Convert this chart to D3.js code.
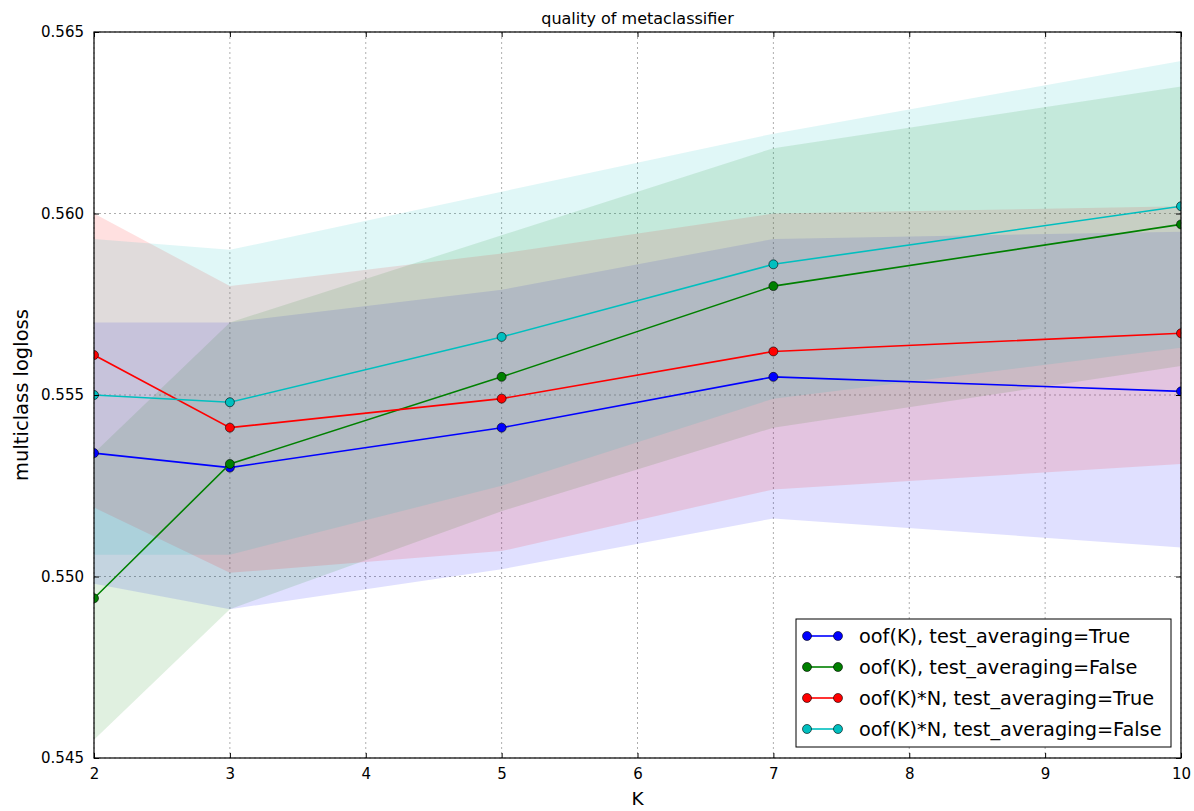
<!DOCTYPE html>
<html>
<head>
<meta charset="utf-8">
<script src="https://cdn.jsdelivr.net/npm/d3@7"></script>
<style>
  body { margin: 0; background: #fff; }
  text { font-family: "DejaVu Sans", sans-serif; fill: #000; }
</style>
</head>
<body>
<svg id="chart" width="1194" height="811"></svg>
<script>
// values
const ks = [2, 3, 5, 7, 10];
const seriesNames = [
  "oof(K), test_averaging=True",
  "oof(K), test_averaging=False",
  "oof(K)*N, test_averaging=True",
  "oof(K)*N, test_averaging=False"
];
const seriesColors = ["#0000ff", "#008000", "#ff0000", "#00bfbf"];

const meanTrue = [0.5534, 0.5530, 0.5541, 0.5555, 0.5551];
const meanFalse = [0.5494, 0.5531, 0.5555, 0.5580, 0.5597];
const meanNTrue = [0.5561, 0.5541, 0.5549, 0.5562, 0.5567];
const meanNFalse = [0.5550, 0.5548, 0.5566, 0.5586, 0.5602];

const upperTrue = [0.5570, 0.5570, 0.5579, 0.5593, 0.5595];
const lowerTrue = [0.5498, 0.5491, 0.5502, 0.5516, 0.5508];
const upperFalse = [0.5534, 0.5570, 0.5594, 0.5618, 0.5635];
const lowerFalse = [0.5455, 0.5491, 0.5518, 0.5541, 0.5558];
const upperNTrue = [0.5600, 0.5580, 0.5589, 0.5600, 0.5602];
const lowerNTrue = [0.5519, 0.5501, 0.5507, 0.5524, 0.5531];
const upperNFalse = [0.5593, 0.5590, 0.5606, 0.5622, 0.5642];
const lowerNFalse = [0.5506, 0.5506, 0.5525, 0.5549, 0.5563];

const xTicks = [2, 3, 4, 5, 6, 7, 8, 9, 10];
const yTicks = [0.545, 0.550, 0.555, 0.560, 0.565];

const series = [
  {mean: meanTrue, lo: lowerTrue, hi: upperTrue},
  {mean: meanFalse, lo: lowerFalse, hi: upperFalse},
  {mean: meanNTrue, lo: lowerNTrue, hi: upperNTrue},
  {mean: meanNFalse, lo: lowerNFalse, hi: upperNFalse}
].map((s, i) => ({...s, name: seriesNames[i], color: seriesColors[i]}));

const m = {left: 94, right: 1181, top: 32, bottom: 758};

const x = d3.scaleLinear().domain([2, 10]).range([m.left, m.right]);
const y = d3.scaleLinear().domain([0.545, 0.565]).range([m.bottom, m.top]);

const svg = d3.select("#chart");

svg.append("defs").append("clipPath")
    .attr("id", "plot-clip")
  .append("rect")
    .attr("x", m.left)
    .attr("y", m.top)
    .attr("width", m.right - m.left)
    .attr("height", m.bottom - m.top);

// grid
const grid = svg.append("g")
    .attr("stroke", "#000")
    .attr("stroke-opacity", 0.4)
    .attr("stroke-width", 0.8)
    .attr("stroke-dasharray", "2,3");

grid.selectAll("line.vx")
  .data(xTicks)
  .join("line")
    .attr("class", "vx")
    .attr("x1", d => x(d)).attr("x2", d => x(d))
    .attr("y1", m.top).attr("y2", m.bottom);

grid.selectAll("line.hy")
  .data(yTicks)
  .join("line")
    .attr("class", "hy")
    .attr("x1", m.left).attr("x2", m.right)
    .attr("y1", d => y(d)).attr("y2", d => y(d));

const plot = svg.append("g").attr("clip-path", "url(#plot-clip)");

// bands
const area = d3.area()
    .x((d, i) => x(ks[i]))
    .y0(d => y(d[0]))
    .y1(d => y(d[1]));

series.forEach(s => {
  plot.append("path")
      .datum(s.lo.map((v, i) => [v, s.hi[i]]))
      .attr("fill", s.color)
      .attr("fill-opacity", 0.12)
      .attr("d", area);
});

// lines and markers
const line = d3.line()
    .x((d, i) => x(ks[i]))
    .y(d => y(d));

series.forEach(s => {
  plot.append("path")
      .datum(s.mean)
      .attr("fill", "none")
      .attr("stroke", s.color)
      .attr("stroke-width", 1.6)
      .attr("d", line);

  plot.selectAll(null)
    .data(s.mean)
    .join("circle")
      .attr("cx", (d, i) => x(ks[i]))
      .attr("cy", d => y(d))
      .attr("r", 4.5)
      .attr("fill", s.color)
      .attr("stroke", "#000")
      .attr("stroke-width", 0.6);
});

// axes (ticks inside, on all four sides)
const fmt = d3.format(".3f");

svg.append("g")
    .attr("transform", `translate(0,${m.bottom})`)
    .call(d3.axisBottom(x).tickValues(xTicks).tickSizeInner(-5).tickSizeOuter(0).tickPadding(10))
    .call(g => g.select(".domain").remove())
    .call(g => g.selectAll("text").attr("font-size", 15).attr("font-family", "DejaVu Sans"));

svg.append("g")
    .attr("transform", `translate(0,${m.top})`)
    .call(d3.axisTop(x).tickValues(xTicks).tickSizeInner(-5).tickSizeOuter(0).tickFormat(""))
    .call(g => g.select(".domain").remove());

svg.append("g")
    .attr("transform", `translate(${m.left},0)`)
    .call(d3.axisLeft(y).tickValues(yTicks).tickFormat(fmt).tickSizeInner(-5).tickSizeOuter(0).tickPadding(10))
    .call(g => g.select(".domain").remove())
    .call(g => g.selectAll("text").attr("font-size", 15).attr("font-family", "DejaVu Sans"));

svg.append("g")
    .attr("transform", `translate(${m.right},0)`)
    .call(d3.axisRight(y).tickValues(yTicks).tickSizeInner(-5).tickSizeOuter(0).tickFormat(""))
    .call(g => g.select(".domain").remove());

svg.append("rect")
    .attr("x", m.left).attr("y", m.top)
    .attr("width", m.right - m.left).attr("height", m.bottom - m.top)
    .attr("fill", "none")
    .attr("stroke", "#000")
    .attr("stroke-width", 1.2);

// titles
svg.append("text")
    .attr("x", (m.left + m.right) / 2).attr("y", 24)
    .attr("text-anchor", "middle")
    .attr("font-size", 16)
    .text("quality of metaclassifier");

svg.append("text")
    .attr("x", (m.left + m.right) / 2).attr("y", 805)
    .attr("text-anchor", "middle")
    .attr("font-size", 18.5)
    .text("K");

svg.append("text")
    .attr("transform", `translate(28,${(m.top + m.bottom) / 2}) rotate(-90)`)
    .attr("text-anchor", "middle")
    .attr("font-size", 19.5)
    .text("multiclass logloss");

// legend
const legend = svg.append("g").attr("transform", "translate(796,619)");

legend.append("rect")
    .attr("width", 375).attr("height", 128)
    .attr("fill", "#fff")
    .attr("stroke", "#000")
    .attr("stroke-width", 1);

const item = legend.selectAll("g.item")
  .data(series)
  .join("g")
    .attr("class", "item")
    .attr("transform", (d, i) => `translate(0,${17 + i * 31})`);

item.append("line")
    .attr("x1", 11).attr("x2", 42)
    .attr("stroke", d => d.color)
    .attr("stroke-width", 1.6);

item.selectAll("circle")
  .data(d => [d, d])
  .join("circle")
    .attr("cx", (d, i) => i ? 42 : 11)
    .attr("r", 4.5)
    .attr("fill", d => d.color)
    .attr("stroke", "#000")
    .attr("stroke-width", 0.6);

item.append("text")
    .attr("x", 63)
    .attr("dy", "0.35em")
    .attr("font-size", 19.3)
    .attr("fill", "#222")
    .text(d => d.name);
</script>
</body>
</html>
